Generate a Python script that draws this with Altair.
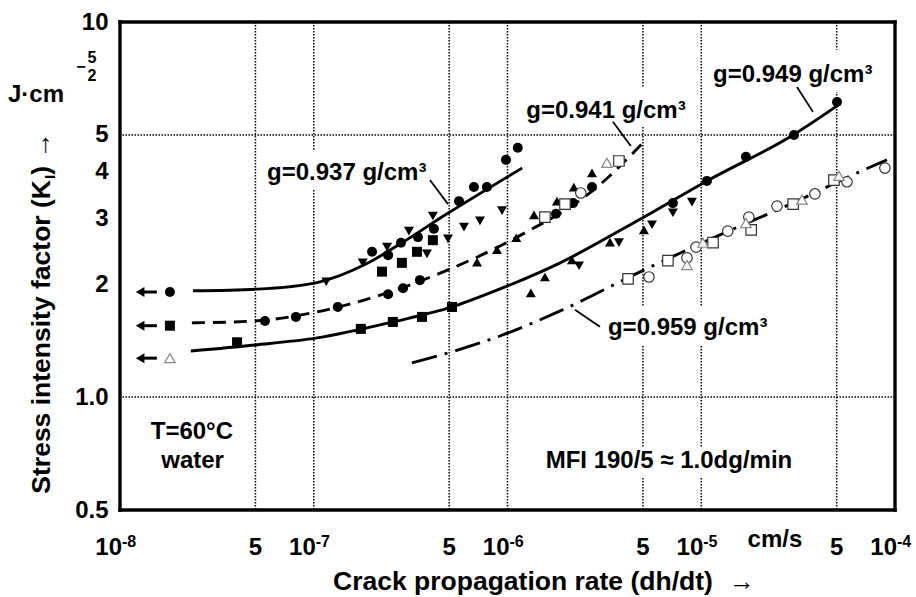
import altair as alt
import pandas as pd
import numpy as np

FONT = "Liberation Sans"

# ---------------- fitted curves ----------------
c937_x = [2.38e-8, 5.09e-8, 1.04e-7, 1.88e-7, 2.79e-7, 4.87e-7, 1.19e-6]
c937_y = [1.92, 1.94, 2.02, 2.27, 2.56, 3.08, 4.08]

c941_x = [2.35e-8, 4.97e-8, 1.04e-7, 2.39e-7, 4.49e-7, 1.12e-6, 2.90e-6, 4.94e-6]
c941_y = [1.577, 1.596, 1.687, 1.896, 2.14, 2.67, 3.63, 4.73]

c949_x = [2.32e-8, 4.97e-8, 1.04e-7, 2.56e-7, 5.17e-7, 8.13e-7, 1.87e-6, 4.83e-6, 1.07e-5, 2.98e-5, 5.20e-5]
c949_y = [1.327, 1.377, 1.438, 1.586, 1.739, 1.896, 2.28, 2.98, 3.77, 5.0, 6.05]

c959_x = [3.21e-7, 9.14e-7, 1.87e-6, 4.83e-6, 1.25e-5, 2.98e-5, 6.37e-5, 9.09e-5]
c959_y = [1.233, 1.455, 1.697, 2.157, 2.706, 3.294, 3.96, 4.29]

# ---------------- measured points ----------------
# filled circles
fc_x = [1.81e-8, 2.00e-7, 2.42e-7, 2.82e-7, 3.45e-7, 4.17e-7, 5.62e-7, 6.71e-7, 7.83e-7, 9.82e-7, 1.13e-6,
        5.60e-8, 8.09e-8, 1.33e-7, 2.42e-7, 2.89e-7, 3.53e-7, 1.78e-6, 2.18e-6, 2.73e-6,
        7.14e-6, 1.07e-5, 1.70e-5, 3.01e-5, 5.02e-5]
fc_y = [1.906, 2.44, 2.39, 2.58, 2.67, 2.81, 3.33, 3.63, 3.63, 4.29, 4.62,
        1.596, 1.636, 1.739, 1.88, 1.95, 2.05, 3.08, 3.29, 3.63,
        3.29, 3.77, 4.37, 5.00, 6.12]
# filled down-triangles
fd_x = [1.16e-7, 1.79e-7, 2.39e-7, 3.10e-7, 4.12e-7, 4.93e-7, 5.96e-7, 7.21e-7, 9.37e-7, 3.84e-7,
        2.34e-6, 3.76e-6, 5.57e-6, 7.14e-6, 8.95e-6]
fd_y = [2.03, 2.28, 2.51, 2.77, 3.04, 2.64, 2.84, 2.95, 3.14, 2.41,
        2.24, 2.58, 2.88, 3.10, 3.31]
# filled up-triangles
fu_x = [6.96e-7, 8.83e-7, 1.11e-6, 1.37e-6, 1.80e-6, 2.20e-6, 2.73e-6,
        1.32e-6, 1.56e-6, 2.15e-6, 3.38e-6, 5.06e-6]
fu_y = [2.29, 2.47, 2.66, 3.06, 3.33, 3.63, 3.96,
        1.896, 2.09, 2.32, 2.59, 2.79]
# filled squares
fs_x = [2.25e-7, 2.85e-7, 3.41e-7, 4.12e-7, 1.81e-8,
        4.02e-8, 1.75e-7, 2.56e-7, 3.62e-7, 5.17e-7]
fs_y = [2.16, 2.28, 2.44, 2.62, 1.55,
        1.40, 1.52, 1.586, 1.636, 1.739]
# open squares
os_x = [1.56e-6, 1.98e-6, 3.76e-6, 4.19e-6, 6.73e-6, 1.15e-5, 1.81e-5, 2.98e-5, 4.84e-5]
os_y = [3.02, 3.27, 4.26, 2.065, 2.31, 2.58, 2.79, 3.27, 3.79]
# open circles
oc_x = [2.39e-6, 5.37e-6, 8.44e-6, 9.40e-6, 1.37e-5, 1.76e-5, 2.46e-5, 3.86e-5, 5.65e-5, 8.87e-5]
oc_y = [3.50, 2.09, 2.35, 2.51, 2.77, 3.02, 3.23, 3.48, 3.75, 4.08]
# open up-triangles
ot_x = [3.26e-6, 1.81e-8, 8.44e-6, 1.02e-5, 1.70e-5, 3.31e-5, 5.14e-5]
ot_y = [4.21, 1.27, 2.25, 2.58, 2.91, 3.36, 3.89]

# arrows pointing to the left (K at dh/dt -> 0)
arrow_y = [1.906, 1.55, 1.27]
arrow_x_start = 1.55e-8
arrow_x_head = 1.27e-8

# ---------------- annotations ----------------
lab_text = ["g=0.937 g/cm³", "g=0.941 g/cm³", "g=0.949 g/cm³", "g=0.959 g/cm³"]
lab_x = [5.74e-8, 1.25e-6, 1.15e-5, 3.30e-6]
lab_y = [3.79, 5.55, 6.92, 1.465]
lead_x1 = [3.98e-7, 3.50e-6, 3.12e-5, 2.23e-6]
lead_y1 = [3.79, 5.42, 6.71, 1.71]
lead_x2 = [4.93e-7, 4.33e-6, 3.77e-5, 3.00e-6]
lead_y2 = [3.27, 4.67, 5.76, 1.54]
box_x1 = [5.41e-8, 1.19e-6, 1.06e-5, 3.11e-6, 1.52e-6]
box_x2 = [4.08e-7, 8.75e-6, 8.17e-5, 2.34e-5, 3.12e-5]
box_y1 = [3.57, 5.25, 6.51, 1.377, 0.609]
box_y2 = [4.56, 6.71, 8.43, 1.739, 0.732]

note_text = ["T=60°C", "water", "MFI 190/5 ≈ 1.0dg/min"]
note_x = [2.35e-8, 2.37e-8, 6.81e-6]
note_y = [0.773, 0.647, 0.647]

grid_x = [5e-8, 1e-7, 5e-7, 1e-6, 5e-6, 1e-5, 5e-5]
grid_y = [1.0, 5.0]

xtick_v = [1e-8, 5e-8, 1e-7, 5e-7, 1e-6, 5e-6, 1e-5, 5e-5, 1e-4]
xtick_main = ["10", "5", "10", "5", "10", "5", "10", "5", "10"]
xtick_exp = ["-8", "", "-7", "", "-6", "", "-5", "", "-4"]
ytick_v = [0.5, 1, 2, 3, 4, 5, 10]

x_dom = [1e-8, 1e-4]
y_dom = [0.5, 10]

W, H = 775, 488

# ---------------- scales ----------------
xs = alt.Scale(type="log", domain=x_dom)
ys = alt.Scale(type="log", domain=y_dom)
yaxis = alt.Axis(values=ytick_v, labelExpr="datum.value == 1 ? '1.0' : toString(datum.value)",
                 ticks=False, tickSize=0, domain=False, grid=False, title=None,
                 labelFont=FONT, labelFontSize=24, labelFontWeight="bold", labelColor="black",
                 labelPadding=12, labelFlush=False, labelOverlap=False)


def X(f="x"):
    return alt.X(f + ":Q", scale=xs, axis=None)


def Y(f="y"):
    return alt.Y(f + ":Q", scale=ys, axis=yaxis)


layers = []

# grid
layers.append(alt.Chart(pd.DataFrame({"x": grid_x})).mark_rule(
    color="black", strokeWidth=1.5, strokeDash=[1.5, 1.5]).encode(x=X()))
layers.append(alt.Chart(pd.DataFrame({"y": grid_y})).mark_rule(
    color="black", strokeWidth=1.5, strokeDash=[1.5, 1.5]).encode(y=Y()))

# white boxes behind labels (interrupt the grid)
layers.append(alt.Chart(pd.DataFrame({"x": box_x1, "x2": box_x2, "y": box_y1, "y2": box_y2})).mark_rect(
    fill="white").encode(x=X(), x2="x2:Q", y=Y(), y2="y2:Q"))

# curves
for cx, cy, dash in [(c937_x, c937_y, None), (c941_x, c941_y, [13, 8]),
                     (c949_x, c949_y, None), (c959_x, c959_y, [26, 8, 3, 8])]:
    kw = dict(color="black", strokeWidth=2.9, interpolate="monotone")
    if dash:
        kw["strokeDash"] = dash
    layers.append(alt.Chart(pd.DataFrame({"x": cx, "y": cy})).mark_line(**kw).encode(x=X(), y=Y()))

# leaders
layers.append(alt.Chart(pd.DataFrame({"x": lead_x1, "x2": lead_x2, "y": lead_y1, "y2": lead_y2})).mark_rule(
    color="black", strokeWidth=1.8).encode(x=X(), x2="x2:Q", y=Y(), y2="y2:Q"))

# arrows
layers.append(alt.Chart(pd.DataFrame({"x": [arrow_x_start] * 3, "x2": [arrow_x_head] * 3, "y": arrow_y})).mark_rule(
    color="black", strokeWidth=3).encode(x=X(), x2="x2:Q", y=Y()))
layers.append(alt.Chart(pd.DataFrame({"x": [arrow_x_head] * 3, "y": arrow_y})).mark_point(
    shape="triangle-left", filled=True, color="black", size=100, opacity=1).encode(x=X(), y=Y()))

# filled markers
for px_, py_, shp in [(fc_x, fc_y, "circle"), (fd_x, fd_y, "triangle-down"),
                      (fu_x, fu_y, "triangle-up"), (fs_x, fs_y, "square")]:
    layers.append(alt.Chart(pd.DataFrame({"x": px_, "y": py_})).mark_point(
        shape=shp, filled=True, color="black", size=100, opacity=1).encode(x=X(), y=Y()))

# open markers
for px_, py_, shp, col in [(os_x, os_y, "square", "#333333"), (oc_x, oc_y, "circle", "#333333"),
                           (ot_x, ot_y, "triangle-up", "#888888")]:
    layers.append(alt.Chart(pd.DataFrame({"x": px_, "y": py_})).mark_point(
        shape=shp, fill="white", filled=True, stroke=col, strokeWidth=1.2, size=110, opacity=1,
        fillOpacity=1).encode(x=X(), y=Y()))

# curve labels
layers.append(alt.Chart(pd.DataFrame({"x": lab_x, "y": lab_y, "t": lab_text})).mark_text(
    align="left", baseline="alphabetic", font=FONT, fontSize=24, fontWeight="bold", color="black").encode(
    x=X(), y=Y(), text="t:N"))
layers.append(alt.Chart(pd.DataFrame({"x": note_x, "y": note_y, "t": note_text})).mark_text(
    align="center", baseline="alphabetic", font=FONT, fontSize=24, fontWeight="bold", color="black").encode(
    x=X(), y=Y(), text="t:N"))

# x tick labels
xt = pd.DataFrame({"x": xtick_v, "m": xtick_main, "e": xtick_exp})
dec = xt[xt["e"] != ""]
half = xt[xt["e"] == ""]
layers.append(alt.Chart(dec).mark_text(align="right", dx=2, baseline="alphabetic", font=FONT, fontSize=24,
                                       fontWeight="bold", color="black").encode(x=X(), y=alt.value(533), text="m:N"))
layers.append(alt.Chart(dec).mark_text(align="left", dx=2, baseline="alphabetic", font=FONT, fontSize=16,
                                       fontWeight="bold", color="black").encode(x=X(), y=alt.value(525), text="e:N"))
layers.append(alt.Chart(half).mark_text(align="center", baseline="alphabetic", font=FONT, fontSize=24,
                                        fontWeight="bold", color="black").encode(x=X(), y=alt.value(533), text="m:N"))
layers.append(alt.Chart(pd.DataFrame({"x": [2.40e-5], "t": ["cm/s"]})).mark_text(
    align="center", baseline="alphabetic", font=FONT, fontSize=24, fontWeight="bold", color="black").encode(
    x=X(), y=alt.value(525), text="t:N"))

# plot frame: four filled bars, each ~3.4 px thick, centred on the domain edges
t = 1.7
lx0, lx1 = np.log10(x_dom)
ly0, ly1 = np.log10(y_dom)
dxl = t * (lx1 - lx0) / W
dyl = t * (ly1 - ly0) / H
fx1 = [lx0 - dxl, lx1 - dxl, lx0 - dxl, lx0 - dxl]
fx2 = [lx0 + dxl, lx1 + dxl, lx1 + dxl, lx1 + dxl]
fy1 = [ly0 - dyl, ly0 - dyl, ly0 - dyl, ly1 - dyl]
fy2 = [ly1 + dyl, ly1 + dyl, ly0 + dyl, ly1 + dyl]
frame = pd.DataFrame({"x": 10 ** np.array(fx1), "x2": 10 ** np.array(fx2),
                      "y": 10 ** np.array(fy1), "y2": 10 ** np.array(fy2)})
layers.append(alt.Chart(frame).mark_rect(fill="black", opacity=1).encode(
    x=X(), x2="x2:Q", y=Y(), y2="y2:Q"))


def ptext(txt, x, y, size, weight="bold", align="center", baseline="alphabetic", angle=0):
    return alt.Chart(pd.DataFrame({"t": [txt]})).mark_text(
        align=align, baseline=baseline, angle=angle, fontSize=size, fontWeight=weight, font=FONT,
        color="black").encode(x=alt.value(x), y=alt.value(y), text="t:N")


# y unit
layers.append(ptext("J·cm", -84, 80, 24))
layers.append(ptext("−", -39, 45, 16, baseline="middle"))
layers.append(ptext("5", -28, 41, 16))
layers.append(ptext("2", -28, 59, 16))

# y title (rotated pieces)
layers.append(ptext("Stress intensity factor (K", -70, 158, 26.5, align="right", angle=270))
layers.append(ptext("I", -65, 155, 15, align="center", angle=270))
layers.append(ptext(")", -70, 144, 26.5, align="right", angle=270))
layers.append(ptext("→", -70, 123, 26, weight="normal", align="center", angle=270))

# x title
layers.append(ptext("Crack propagation rate (dh/dt)", 213, 568, 26.5, align="left"))
layers.append(ptext("→", 622, 568, 26, weight="normal"))

chart = alt.layer(*layers).properties(
    width=W, height=H,
    padding={"left": 120, "top": 22, "right": 21, "bottom": 87},
    autosize=alt.AutoSizeParams(type="none"),
    background="white",
).configure_view(strokeWidth=0)

chart.save("out.html", embed_options={"renderer": "svg", "actions": False})
